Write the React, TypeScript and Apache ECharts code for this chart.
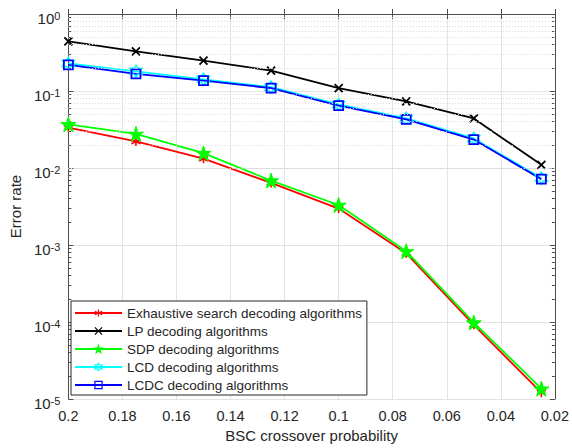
import React, { useEffect, useRef } from "react";
import * as echarts from "echarts";

const crossover = [0.2, 0.175, 0.15, 0.125, 0.1, 0.075, 0.05, 0.025];
const exhaustive = [0.0334, 0.0221, 0.0132, 0.0064, 0.00297, 0.00078, 0.0000918, 0.0000121];
const lp = [0.44, 0.327, 0.248, 0.184, 0.109, 0.0735, 0.044, 0.011];
const sdp = [0.0369, 0.0277, 0.0156, 0.00687, 0.00331, 0.00083, 0.0000982, 0.0000136];
const lcd = [0.228, 0.18, 0.142, 0.112, 0.067, 0.044, 0.0242, 0.0074];
const lcdc = [0.218, 0.167, 0.136, 0.109, 0.0647, 0.0427, 0.0234, 0.00716];

const seriesNames = [
  "Exhaustive search decoding algorithms",
  "LP decoding algorithms",
  "SDP decoding algorithms",
  "LCD decoding algorithms",
  "LCDC decoding algorithms",
];

const minorDecades = [-5, -4, -3, -2, -1];
const minorMultipliers = [2, 3, 4, 5, 6, 7, 8, 9];

const FONT = "Liberation Sans, Arial, Helvetica, sans-serif";
const TEXT = "#262626";
const AXIS = "#4d4d4d";

const ASTERISK = "path://M0,-10L0,10M-8.66,-5L8.66,5M-8.66,5L8.66,-5";
const CROSS = "path://M-10,-10L10,10M-10,10L10,-10";
const PENTAGRAM =
  "path://M0,-100L22.45,-30.9L95.1,-30.9L36.3,11.8L58.8,80.9L0,38.2L-58.8,80.9L-36.3,11.8L-95.1,-30.9L-22.45,-30.9Z";
const HEXAGRAM =
  "path://M0,-100L28.87,-50L86.6,-50L57.7,0L86.6,50L28.87,50L0,100L-28.87,50L-86.6,50L-57.7,0L-86.6,-50L-28.87,-50Z";

function pairs(ys: number[]) {
  return crossover.map((x, i) => [x, ys[i]]);
}

export default function App() {
  const ref = useRef<HTMLDivElement>(null);
  useEffect(() => {
    if (!ref.current) return;
    const chart = echarts.init(ref.current, undefined, { renderer: "svg" });

    const minorValues: number[] = [];
    minorDecades.forEach((d) => minorMultipliers.forEach((k) => minorValues.push(k * Math.pow(10, d))));
    const minorLog = minorValues.map((v) => Math.log10(v));

    const lineSeries = (
      name: string,
      ys: number[],
      color: string,
      symbol: string,
      symbolSize: number,
      item: any
    ) => ({
      name,
      type: "line",
      data: pairs(ys),
      symbol,
      symbolSize,
      lineStyle: { color, width: 1.8 },
      itemStyle: item,
      emphasis: { disabled: true },
      z: 3,
    });

    const option: any = {
      animation: false,
      backgroundColor: "#ffffff",
      textStyle: { fontFamily: FONT },
      grid: { left: 67, right: 15, top: 14, bottom: 46, containLabel: false },
      legend: {
        show: true,
        orient: "vertical",
        left: 71,
        top: 301,
        padding: [5, 5, 3, 3],
        itemWidth: 47,
        itemHeight: 9,
        itemGap: 4,
        backgroundColor: "#ffffff",
        borderColor: TEXT,
        borderWidth: 1,
        itemStyle: { borderWidth: 1.2 },
        textStyle: { fontSize: 13.5, color: TEXT, fontFamily: FONT, lineHeight: 14 },
        data: seriesNames,
        selectedMode: false,
      },
      xAxis: [
        {
          type: "value",
          min: 0.02,
          max: 0.2,
          interval: 0.02,
          inverse: true,
          position: "bottom",
          name: "BSC crossover probability",
          nameLocation: "middle",
          nameGap: 29,
          nameTextStyle: { fontSize: 15, color: TEXT, fontFamily: FONT },
          axisLine: { show: true, lineStyle: { color: AXIS, width: 1 } },
          axisTick: { show: true, inside: true, length: 5, lineStyle: { color: AXIS } },
          axisLabel: {
            fontSize: 14.5,
            color: TEXT,
            margin: 9,
            fontFamily: FONT,
            formatter: (v: number) => String(parseFloat(v.toFixed(3))),
          },
          splitLine: { show: true, lineStyle: { color: "#e3e3e3", width: 1 } },
        },
        {
          type: "value",
          min: 0.02,
          max: 0.2,
          interval: 0.02,
          inverse: true,
          position: "top",
          axisLine: { show: true, onZero: false, lineStyle: { color: AXIS, width: 1 } },
          axisTick: { show: true, inside: true, length: 5, lineStyle: { color: AXIS } },
          axisLabel: { show: false },
          splitLine: { show: false },
        },
      ],
      yAxis: [
        {
          type: "log",
          logBase: 10,
          min: 0.00001,
          max: 1,
          position: "left",
          name: "Error rate",
          nameLocation: "middle",
          nameGap: 37,
          nameTextStyle: { fontSize: 15, color: TEXT, fontFamily: FONT },
          axisLine: { show: true, onZero: false, lineStyle: { color: AXIS, width: 1 } },
          axisTick: { show: true, inside: true, length: 5, lineStyle: { color: AXIS } },
          axisLabel: {
            color: TEXT,
            margin: 8,
            fontFamily: FONT,
            formatter: (v: number) => `{b|10}{s|${Math.round(Math.log10(v))}}`,
            rich: {
              b: { fontSize: 15, color: TEXT, fontFamily: FONT, lineHeight: 20, padding: [8, 0, 0, 0] },
              s: {
                fontSize: 11,
                color: TEXT,
                fontFamily: FONT,
                lineHeight: 12,
                padding: [6, 0, 0, 0],
                verticalAlign: "top",
              },
            },
          },
          splitLine: { show: true, lineStyle: { color: "#e3e3e3", width: 1 } },
        },
        {
          type: "log",
          logBase: 10,
          min: 0.00001,
          max: 1,
          position: "right",
          axisLine: { show: true, onZero: false, lineStyle: { color: AXIS, width: 1 } },
          axisTick: { show: true, inside: true, length: 5, lineStyle: { color: AXIS } },
          axisLabel: { show: false },
          splitLine: { show: false },
        },
        {
          type: "value",
          min: -5,
          max: 0,
          position: "left",
          axisLine: { show: false },
          axisTick: { show: true, inside: true, length: 3, customValues: minorLog, lineStyle: { color: AXIS } },
          axisLabel: { show: false },
          splitLine: { show: false },
        },
        {
          type: "value",
          min: -5,
          max: 0,
          position: "right",
          axisLine: { show: false },
          axisTick: { show: true, inside: true, length: 3, customValues: minorLog, lineStyle: { color: AXIS } },
          axisLabel: { show: false },
          splitLine: { show: false },
        },
      ],
      series: [
        {
          name: "_minor",
          type: "line",
          data: [],
          z: 1,
          silent: true,
          markLine: {
            silent: true,
            symbol: ["none", "none"],
            label: { show: false },
            emphasis: { disabled: true },
            lineStyle: { color: "#d9d9d9", width: 1, type: [1, 2] },
            data: minorValues.map((v) => ({ yAxis: v })),
          },
        },
        lineSeries(seriesNames[0], exhaustive, "#ff0000", ASTERISK, 9, {
          color: "#ff0000",
          borderColor: "#ff0000",
          borderWidth: 1.6,
        }),
        lineSeries(seriesNames[1], lp, "#000000", CROSS, 8, {
          color: "#000000",
          borderColor: "#000000",
          borderWidth: 1.8,
        }),
        lineSeries(seriesNames[2], sdp, "#00ff00", PENTAGRAM, 15, {
          color: "#00ff00",
          borderColor: "#00ff00",
          borderWidth: 1,
        }),
        lineSeries(seriesNames[3], lcd, "#00ffff", HEXAGRAM, 12, {
          color: "transparent",
          borderColor: "#00ffff",
          borderWidth: 1.5,
        }),
        lineSeries(seriesNames[4], lcdc, "#0000ff", "rect", 9, {
          color: "transparent",
          borderColor: "#0000ff",
          borderWidth: 1.8,
        }),
      ],
    };

    chart.setOption(option);
    return () => chart.dispose();
  }, []);

  return (
    <div
      ref={ref}
      style={{ position: "fixed", left: 0, top: 0, width: 572, height: 448, background: "#fff" }}
    />
  );
}
